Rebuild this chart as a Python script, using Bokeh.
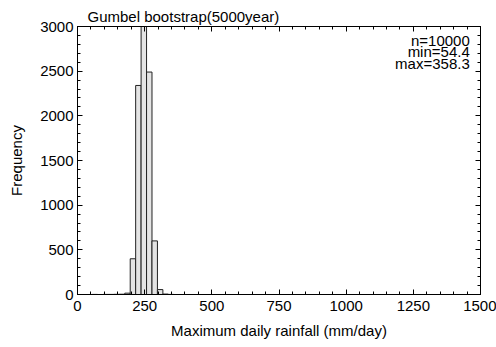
from bokeh.plotting import figure
from bokeh.models import Range1d, LinearAxis, SingleIntervalTicker, ColumnDataSource, CustomJSTickFormatter
from bokeh.core.properties import value
from bokeh.embed import file_html
from bokeh.resources import INLINE
import numpy as np

# data
bin_min = 54.4
bin_max = 358.3
n_bins = 15
counts = [1, 0, 1, 1, 2, 3, 15, 400, 2340, 4086, 2490, 600, 55, 5, 1]
stats_lines = ["n=10000", "min=54.4", "max=358.3"]
stats_y = [2844, 2715, 2587]
stats_x = 1460
title_text = "Gumbel bootstrap(5000year)"
x_label = "Maximum daily rainfall (mm/day)"
y_label = "Frequency"

edges = np.linspace(bin_min, bin_max, n_bins + 1)

FONT = "Liberation Sans"
FS = "15px"

p = figure(width=496, height=347, output_backend="svg", toolbar_location=None,
           x_range=Range1d(0, 1500), y_range=Range1d(0, 3000),
           x_axis_location=None, y_axis_location=None,
           min_border_left=77, min_border_right=16, min_border_top=26, min_border_bottom=53)
p.grid.visible = False
p.outline_line_color = "black"
p.outline_line_width = 1
p.background_fill_color = "white"
p.border_fill_color = "white"

p.title.text = title_text
p.title.text_font = FONT
p.title.text_font_size = FS
p.title.text_font_style = "normal"
p.title.text_color = "black"
p.title.align = "left"
p.title.offset = 10
p.title.standoff = 4

src = ColumnDataSource(dict(left=edges[:-1], right=edges[1:], top=counts, bottom=[0] * n_bins))
p.quad(left="left", right="right", top="top", bottom="bottom", source=src,
       fill_color="#e4e4e4", line_color="#222222", line_width=1)

def style(ax, labels=True):
    ax.axis_line_color = "black"
    ax.major_tick_in = 5
    ax.major_tick_out = 0
    ax.minor_tick_in = 3
    ax.minor_tick_out = 0
    ax.major_tick_line_color = "black"
    ax.minor_tick_line_color = "black"
    ax.major_label_text_font = FONT
    ax.major_label_text_font_size = FS
    ax.major_label_text_color = "black"
    ax.axis_label_text_font = FONT
    ax.axis_label_text_font_size = FS
    ax.axis_label_text_font_style = "normal"
    ax.axis_label_text_color = "black"
    if not labels:
        ax.formatter = CustomJSTickFormatter(code="return ''")
        ax.major_label_standoff = 0

xb = LinearAxis(ticker=SingleIntervalTicker(interval=250, num_minor_ticks=5), axis_label=x_label)
style(xb)
xb.major_label_standoff = 6
xb.axis_label_standoff = 8
p.add_layout(xb, "below")

yl = LinearAxis(ticker=SingleIntervalTicker(interval=500, num_minor_ticks=5), axis_label=y_label)
style(yl)
yl.major_label_standoff = 4
yl.axis_label_standoff = 12
p.add_layout(yl, "left")

xt = LinearAxis(ticker=SingleIntervalTicker(interval=250, num_minor_ticks=5))
style(xt, labels=False)
p.add_layout(xt, "above")

yr = LinearAxis(ticker=SingleIntervalTicker(interval=500, num_minor_ticks=5))
style(yr, labels=False)
p.add_layout(yr, "right")

tsrc = ColumnDataSource(dict(x=[stats_x] * len(stats_lines), y=stats_y, t=stats_lines))
p.text(x="x", y="y", text="t", source=tsrc, text_align="right", text_baseline="middle",
       text_font=value(FONT), text_font_size=FS, text_color="black")

open("out.html", "w").write(file_html(p, INLINE))
